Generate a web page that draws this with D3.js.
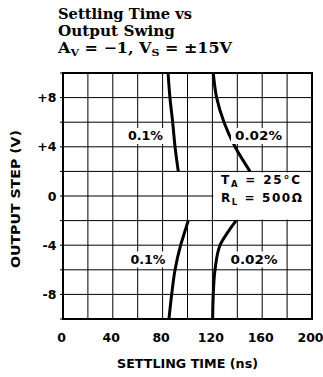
<!DOCTYPE html>
<html><head><meta charset="utf-8">
<script src="https://cdn.jsdelivr.net/npm/d3@7"></script>
<style>body{margin:0;background:#fff}svg{display:block}</style>
</head><body>
<svg id="c" width="323" height="377"></svg>
<script>
const xTicks = [0, 40, 80, 120, 160, 200];
const yTicks = [8, 4, 0, -4, -8];
const yTickLabels = ["+8", "+4", "0", "-4", "-8"];
const gridX = d3.range(0, 201, 20);
const gridY = d3.range(-10, 11, 2);

const volts_pos = [10, 8, 6, 4, 2];
const time_01_pos = [84.4, 85.9, 88.1, 90.0, 92.6];
const time_002_pos = [120.7, 123.4, 129.3, 138.2, 150.2];
const volts_neg = [-2, -3, -4, -6, -8, -10];
const time_01_neg = [100.6, 97.5, 94.5, 90.0, 87.3, 85.1];
const time_002_neg = [139.0, 132.0, 126.1, 122.1, 120.7, 120.2];

const svg = d3.select("#c");
const L = 63, R = 312, T = 73, B = 319;
const x = d3.scaleLinear().domain([0, 200]).range([L, R]);
const y = d3.scaleLinear().domain([-10, 10]).range([B, T]);

// title
const tf = "'DejaVu Serif', serif";
const title = svg.append("g").attr("font-family", tf).attr("font-weight", "bold").attr("font-size", 14.5).attr("fill", "#000");
title.append("text").attr("x", 58).attr("y", 19).attr("textLength", 134).attr("lengthAdjust", "spacingAndGlyphs").text("Settling Time vs");
title.append("text").attr("x", 58).attr("y", 36).attr("textLength", 117).attr("lengthAdjust", "spacingAndGlyphs").text("Output Swing");
const t3 = title.append("text").attr("x", 58).attr("y", 53).attr("textLength", 174).attr("lengthAdjust", "spacingAndGlyphs");
t3.append("tspan").text("A");
t3.append("tspan").attr("font-size", 10).attr("dy", 3).text("V");
t3.append("tspan").attr("dy", -3).text(" =  \u22121, V");
t3.append("tspan").attr("font-size", 10).attr("dy", 3).text("S");
t3.append("tspan").attr("dy", -3).text(" =  \u00b115V");

// grid
const g = svg.append("g");
g.selectAll("line.gx").data(gridX).join("line")
  .attr("x1", d => x(d)).attr("x2", d => x(d)).attr("y1", T).attr("y2", B)
  .attr("stroke", "#000").attr("stroke-width", 1);
g.selectAll("line.gy").data(gridY).join("line")
  .attr("x1", L).attr("x2", R).attr("y1", d => y(d)).attr("y2", d => y(d))
  .attr("stroke", "#000").attr("stroke-width", 1);

// curves
const line = d3.line().x(d => x(d[0])).y(d => y(d[1])).curve(d3.curveMonotoneY);
function curve(ts, vs) {
  const pts = ts.map((t, i) => [t, vs[i]]).sort((a, b) => a[1] - b[1]);
  svg.append("path").attr("d", line(pts)).attr("fill", "none")
    .attr("stroke", "#000").attr("stroke-width", 3).attr("stroke-linecap", "butt");
}
curve(time_01_pos, volts_pos);
curve(time_002_pos, volts_pos);
curve(time_01_neg, volts_neg);
curve(time_002_neg, volts_neg);

// labels with white backgrounds
const sf = "'DejaVu Sans', sans-serif";
function label(cx, cy, txt, w) {
  const t = svg.append("text").attr("x", cx).attr("y", cy).attr("text-anchor", "middle")
    .attr("dominant-baseline", "central").attr("font-family", sf).attr("font-weight", "bold")
    .attr("font-size", 12).attr("textLength", w).attr("lengthAdjust", "spacingAndGlyphs").text(txt);
  const bb = t.node().getBBox();
  svg.insert("rect", () => t.node()).attr("x", cx - w / 2 - 4).attr("y", bb.y - 1)
    .attr("width", w + 8).attr("height", bb.height + 2).attr("fill", "#fff");
}
label(145.5, 136, "0.1%", 35);
label(258.5, 136, "0.02%", 47);
label(148, 259.5, "0.1%", 35);
label(254, 259.5, "0.02%", 47);

// conditions box (covers interior grid cells)
svg.append("rect").attr("x", x(120) + 1).attr("y", y(2) + 1).attr("width", x(200) - x(120) - 2)
  .attr("height", y(-2) - y(2) - 2).attr("fill", "#fff");
const c1 = svg.append("text").attr("x", 221).attr("y", 184).attr("font-family", sf).attr("font-weight", "bold")
  .attr("font-size", 12).attr("textLength", 79).attr("lengthAdjust", "spacing");
c1.append("tspan").text("T");
c1.append("tspan").attr("font-size", 8.5).attr("dy", 3).text("A");
c1.append("tspan").attr("dy", -3).text(" = 25\u00b0C");
const c2 = svg.append("text").attr("x", 221).attr("y", 202).attr("font-family", sf).attr("font-weight", "bold")
  .attr("font-size", 12).attr("textLength", 81).attr("lengthAdjust", "spacing");
c2.append("tspan").text("R");
c2.append("tspan").attr("font-size", 8.5).attr("dy", 3).text("L");
c2.append("tspan").attr("dy", -3).text(" = 500\u03a9");

// frame and ticks
svg.selectAll("line.ty").data(gridY).join("line")
  .attr("x1", L - 3).attr("x2", L).attr("y1", d => y(d)).attr("y2", d => y(d))
  .attr("stroke", "#000").attr("stroke-width", 1);
svg.append("rect").attr("x", L).attr("y", T).attr("width", R - L).attr("height", B - T)
  .attr("fill", "none").attr("stroke", "#000").attr("stroke-width", 2);

// axes labels
svg.selectAll("text.xt").data(xTicks).join("text")
  .attr("x", d => x(d) - 1.5).attr("y", 342).attr("text-anchor", "middle")
  .attr("font-family", sf).attr("font-weight", "bold").attr("font-size", 12.5).text(d => d);
svg.selectAll("text.yt").data(yTicks).join("text")
  .attr("x", 56.5).attr("y", d => y(d)).attr("text-anchor", "end").attr("dominant-baseline", "central")
  .attr("font-family", sf).attr("font-weight", "bold").attr("font-size", 12.5).text((d, i) => yTickLabels[i]);
svg.append("text").attr("x", 187.5).attr("y", 367.5).attr("text-anchor", "middle")
  .attr("font-family", sf).attr("font-weight", "bold").attr("font-size", 12.5)
  .attr("textLength", 141).attr("lengthAdjust", "spacingAndGlyphs").text("SETTLING TIME (ns)");
svg.append("text").attr("transform", "translate(20,199) rotate(-90)").attr("text-anchor", "middle")
  .attr("font-family", sf).attr("font-weight", "bold").attr("font-size", 12.5)
  .attr("textLength", 138).attr("lengthAdjust", "spacingAndGlyphs").text("OUTPUT STEP (V)");
</script>
</body></html>
